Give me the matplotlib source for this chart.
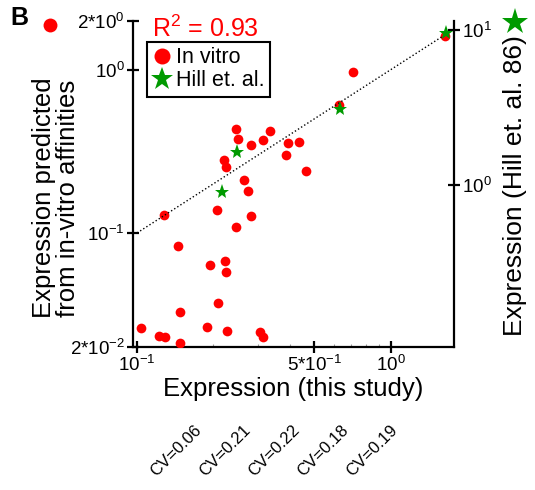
import numpy as np
import matplotlib
matplotlib.use('Agg')
import matplotlib.pyplot as plt
from matplotlib.lines import Line2D
from matplotlib.ticker import FixedLocator, LogLocator, NullLocator

plt.rcParams['font.family'] = ['Liberation Sans', 'DejaVu Sans']
plt.rcParams['mathtext.fontset'] = 'custom'
plt.rcParams['mathtext.rm'] = 'Liberation Sans'
plt.rcParams['mathtext.it'] = 'Liberation Sans:italic'
plt.rcParams['mathtext.bf'] = 'Liberation Sans:bold'

# in vitro points: expression (this study) vs predicted from affinities
vitro_x = [0.245, 0.335, 0.251, 0.313, 0.281, 0.395, 0.435, 0.386, 0.220, 0.224,
           0.264, 0.275, 0.462, 0.708, 0.627, 1.647, 0.128, 0.207, 0.281, 0.246,
           0.145, 0.194, 0.222, 0.224, 0.208, 0.148, 0.104, 0.188, 0.227, 0.122,
           0.129, 0.148, 0.305, 0.314]
vitro_y = [0.436, 0.421, 0.375, 0.373, 0.348, 0.358, 0.361, 0.300, 0.282, 0.253,
           0.211, 0.180, 0.239, 0.964, 0.607, 1.619, 0.129, 0.138, 0.127, 0.109,
           0.0832, 0.0632, 0.0669, 0.0580, 0.0371, 0.0330, 0.0263, 0.0266, 0.0251, 0.0235,
           0.0231, 0.0212, 0.0247, 0.0229]

# Hill et al. 86 (right axis)
hill_x = [0.248, 0.217, 0.631, 1.651]
hill_y = [1.64, 0.897, 3.09, 9.61]

r2_text = 'R$^2$ = 0.93'
cv_labels = ['CV=0.06', 'CV=0.21', 'CV=0.22', 'CV=0.18', 'CV=0.19']

red = '#ff0000'
green = '#009a00'

fig = plt.figure(figsize=(5.35, 4.9), dpi=100)
W, H = 535.0, 490.0
ax = fig.add_axes([133 / W, 1 - 347 / H, (454 - 133) / W, (347 - 20.7) / H])

ax.set_xscale('log')
ax.set_yscale('log')
ax.set_xlim(0.0964, 1.78)
ax.set_ylim(0.02, 2.0)

ax.plot(vitro_x, vitro_y, 'o', color=red, markersize=7, markeredgewidth=0, zorder=3)
ax.plot([0.1, 1.75], [0.1, 1.75], ':', color='black', lw=1.0, zorder=4)

for s in ['top', 'right']:
    ax.spines[s].set_visible(False)
for s in ['left', 'bottom']:
    ax.spines[s].set_linewidth(1.6)

ax.yaxis.set_major_locator(FixedLocator([2.0, 1.0, 0.1, 0.02]))
ax.set_yticklabels(['2*10$^0$', '10$^0$', '10$^{-1}$', '2*10$^{-2}$'])
ax.yaxis.set_minor_locator(NullLocator())
ax.xaxis.set_major_locator(FixedLocator([0.1, 0.5, 1.0]))
ax.set_xticklabels(['10$^{-1}$', '5*10$^{-1}$', '10$^0$'])
ax.xaxis.set_minor_locator(LogLocator(base=10, subs=np.arange(2, 10)))
ax.tick_params(which='major', direction='inout', length=8, width=1.6, labelsize=13.5, pad=2)
ax.tick_params(which='minor', direction='in', length=2.5, width=0.8, color='#999999')
ax.tick_params(axis='x', which='minor', labelbottom=False)

ax2 = ax.twinx()
ax2.set_yscale('log')
ax2.set_ylim(0.0902, 11.48)
for s in ['top', 'left', 'bottom']:
    ax2.spines[s].set_visible(False)
ax2.spines['right'].set_linewidth(1.6)
ax2.yaxis.set_major_locator(FixedLocator([1.0, 10.0]))
ax2.set_yticklabels(['10$^0$', '10$^1$'])
ax2.yaxis.set_minor_locator(NullLocator())
ax2.tick_params(which='major', direction='inout', length=8, width=1.6, labelsize=13.5, pad=2)
ax2.plot(hill_x, hill_y, '*', color=green, markersize=11, markeredgewidth=0, zorder=5)

ax.set_xlabel('Expression (this study)', fontsize=18.5, labelpad=1)
fig.text(56 / W, 1 - 198 / H, 'Expression predicted\nfrom in-vitro affinities',
         rotation=90, ha='center', va='center', fontsize=18.5, linespacing=0.95)
fig.text(515 / W, 1 - 186 / H, 'Expression (Hill et. al. 86)',
         rotation=90, ha='center', va='center', fontsize=19)

fig.text(205 / W, 1 - 29 / H, r2_text, color=red, ha='center', va='center', fontsize=18)
fig.text(10 / W, 1 - 18 / H, 'B', fontsize=18, fontweight='bold', ha='left', va='center')

fig.add_artist(Line2D([50 / W], [1 - 25 / H], marker='o', color=red,
                      markersize=10, markeredgewidth=0, transform=fig.transFigure))
fig.add_artist(Line2D([515 / W], [1 - 22 / H], marker='*', color=green,
                      markersize=20, markeredgewidth=0, transform=fig.transFigure))

handles = [Line2D([], [], marker='o', color=red, linestyle='none', markersize=11.5, markeredgewidth=0),
           Line2D([], [], marker='*', color=green, linestyle='none', markersize=17, markeredgewidth=0)]
leg = ax.legend(handles, ['In vitro', 'Hill et. al.'], loc='upper left',
                bbox_to_anchor=(0.044, 0.935), borderaxespad=0, fontsize=15.5,
                handlelength=0.9, handletextpad=0.2, borderpad=0.25, labelspacing=0.1,
                fancybox=False, framealpha=1, edgecolor='black')
leg.get_frame().set_linewidth(1.5)
leg.set_zorder(10)

for i, lab in enumerate(cv_labels):
    fig.text((156 + 49 * i) / W, 1 - 477 / H, lab, rotation=45, rotation_mode='anchor',
             ha='left', va='baseline', fontsize=12)

fig.savefig('out.png', dpi=100)
